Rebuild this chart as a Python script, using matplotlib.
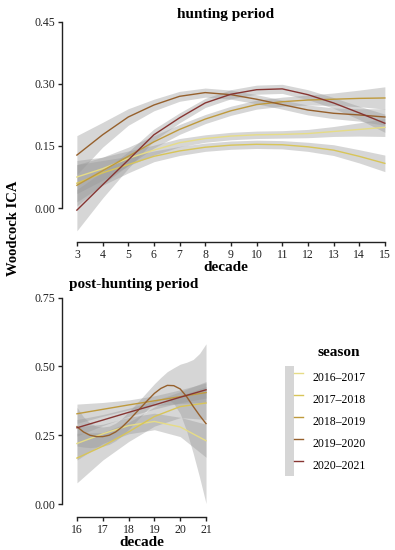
import matplotlib
matplotlib.use('Agg')
import matplotlib.pyplot as plt
from matplotlib.lines import Line2D
from matplotlib.patches import Patch
from matplotlib.legend_handler import HandlerTuple
import numpy as np

seasons = ['2016\u20132017', '2017\u20132018', '2018\u20132019', '2019\u20132020', '2020\u20132021']

# hunting period, decades 3..15
decades_hunt = [3, 4, 5, 6, 7, 8, 9, 10, 11, 12, 13, 14, 15]
hunt_fit = {
    '2016\u20132017': [0.075, 0.095, 0.12, 0.14, 0.158, 0.168, 0.174, 0.177, 0.178, 0.18, 0.185, 0.19, 0.195],
    '2017\u20132018': [0.06, 0.085, 0.105, 0.125, 0.138, 0.147, 0.152, 0.154, 0.153, 0.148, 0.14, 0.125, 0.108],
    '2018\u20132019': [0.055, 0.09, 0.125, 0.16, 0.19, 0.215, 0.235, 0.25, 0.257, 0.261, 0.263, 0.265, 0.266],
    '2019\u20132020': [0.128, 0.177, 0.22, 0.249, 0.27, 0.279, 0.274, 0.263, 0.25, 0.237, 0.229, 0.225, 0.22],
    '2020\u20132021': [-0.005, 0.056, 0.116, 0.177, 0.218, 0.254, 0.275, 0.286, 0.288, 0.274, 0.254, 0.23, 0.205],
}
hunt_se = {
    '2016\u20132017': [0.04, 0.028, 0.018, 0.012, 0.01, 0.009, 0.009, 0.009, 0.009, 0.01, 0.012, 0.016, 0.022],
    '2017\u20132018': [0.045, 0.03, 0.02, 0.013, 0.011, 0.01, 0.01, 0.01, 0.01, 0.011, 0.013, 0.016, 0.02],
    '2018\u20132019': [0.05, 0.033, 0.022, 0.015, 0.012, 0.011, 0.011, 0.011, 0.011, 0.012, 0.015, 0.02, 0.027],
    '2019\u20132020': [0.047, 0.03, 0.02, 0.014, 0.012, 0.011, 0.011, 0.011, 0.011, 0.012, 0.013, 0.015, 0.02],
    '2020\u20132021': [0.05, 0.032, 0.02, 0.014, 0.012, 0.011, 0.011, 0.011, 0.011, 0.012, 0.013, 0.016, 0.022],
}

# post-hunting period, decades 16..21
decades_post = [16, 17, 18, 19, 20, 21]
decades_post_fine = [16, 16.25, 16.5, 16.75, 17, 17.25, 17.5, 17.75, 18, 18.25, 18.5,
                     18.75, 19, 19.25, 19.5, 19.75, 20, 20.25, 20.5, 20.75, 21]
post_fit = {
    '2016\u20132017': [0.22, 0.255, 0.285, 0.30, 0.28, 0.23],
    '2017\u20132018': [0.167, 0.21, 0.262, 0.318, 0.354, 0.367],
    '2018\u20132019': [0.328, 0.344, 0.36, 0.375, 0.39, 0.405],
    '2019\u20132020': [0.281, 0.262, 0.25, 0.245, 0.245, 0.25, 0.262, 0.28, 0.303, 0.328, 0.353,
                       0.378, 0.402, 0.42, 0.431, 0.43, 0.418, 0.39, 0.355, 0.322, 0.292],
    '2020\u20132021': [0.277, 0.305, 0.333, 0.36, 0.388, 0.415],
}
post_se = {
    '2016\u20132017': [0.06, 0.035, 0.03, 0.03, 0.035, 0.06],
    '2017\u20132018': [0.09, 0.05, 0.035, 0.035, 0.04, 0.06],
    '2018\u20132019': [0.035, 0.025, 0.018, 0.018, 0.025, 0.035],
    '2019\u20132020': [0.07, 0.055, 0.045, 0.038, 0.035, 0.033, 0.032, 0.032, 0.032, 0.032, 0.032,
                       0.033, 0.035, 0.04, 0.05, 0.065, 0.09, 0.125, 0.17, 0.225, 0.29],
    '2020\u20132021': [0.03, 0.02, 0.015, 0.015, 0.02, 0.03],
}

colors = ['#e6dc86', '#d8c558', '#bf9a3c', '#96602c', '#873532']
ribbon = '#999999'

plt.rcParams['font.family'] = ['Liberation Serif', 'DejaVu Serif']


def style_axes(ax, xt, yt, ylabels):
    for side in ['top', 'right']:
        ax.spines[side].set_visible(False)
    for side in ['left', 'bottom']:
        ax.spines[side].set_color('#222222')
        ax.spines[side].set_linewidth(1.0)
    ax.spines['left'].set_bounds(yt[0], yt[-1])
    ax.spines['bottom'].set_bounds(xt[0], xt[-1])
    ax.set_xticks(xt)
    ax.set_yticks(yt)
    ax.set_yticklabels(ylabels)
    ax.tick_params(length=3, width=1, pad=2, colors='#222222', labelsize=8.5)
    ax.set_xlabel('decade', fontsize=11, fontweight='bold', labelpad=0)


def draw_panel(ax, fits, ses, xs_for):
    for s in seasons:
        x = xs_for(s)
        y = np.array(fits[s])
        e = np.array(ses[s])
        ax.fill_between(x, y - e, y + e, color=ribbon, alpha=0.4, linewidth=0)
    for s, c in zip(seasons, colors):
        ax.plot(xs_for(s), fits[s], color=c, linewidth=1.0)


def main():
    fig = plt.figure(figsize=(3.95, 5.5), dpi=100)

    ax1 = fig.add_axes([62 / 395, 1 - 242 / 550, 328 / 395, 221 / 550])
    draw_panel(ax1, hunt_fit, hunt_se, lambda s: decades_hunt)
    ax1.set_xlim(2.42, 15.2)
    ax1.set_ylim(-0.082, 0.452)
    style_axes(ax1, decades_hunt, [0, 0.15, 0.30, 0.45], ['0.00', '0.15', '0.30', '0.45'])
    ax1.set_title('hunting period', fontsize=11, fontweight='bold', pad=2)

    ax2 = fig.add_axes([62 / 395, 1 - 517 / 550, 159 / 395, 220 / 550])
    draw_panel(ax2, post_fit, post_se,
               lambda s: decades_post_fine if s == '2019\u20132020' else decades_post)
    ax2.set_xlim(15.42, 21.58)
    ax2.set_ylim(-0.047, 0.752)
    style_axes(ax2, decades_post, [0, 0.25, 0.50, 0.75], ['0.00', '0.25', '0.50', '0.75'])
    ax2.text(0.453, 1.055, 'post-hunting period', transform=ax2.transAxes,
             ha='center', va='center', fontsize=11, fontweight='bold')

    fig.text(14 / 395, 1 - 228 / 550, 'Woodcock ICA', rotation=90, ha='center', va='center',
             fontsize=10.5, fontweight='bold')

    handles = [(Patch(facecolor=ribbon, alpha=0.4, edgecolor='none'),
                Line2D([], [], color=c, linewidth=1.0)) for c in colors]
    fig.legend(handles, seasons, loc='upper left', bbox_to_anchor=(285 / 395, 1 - 366 / 550),
               frameon=False, borderpad=0, borderaxespad=0, labelspacing=0,
               handlelength=1.5, handleheight=2.49, handletextpad=0.85, fontsize=8.5,
               handler_map={tuple: HandlerTuple(ndivide=None)})
    fig.text(339 / 395, 1 - 353 / 550, 'season', ha='center', va='center',
             fontsize=11, fontweight='bold')

    fig.savefig('out.png', dpi=100)


if __name__ == '__main__':
    main()
